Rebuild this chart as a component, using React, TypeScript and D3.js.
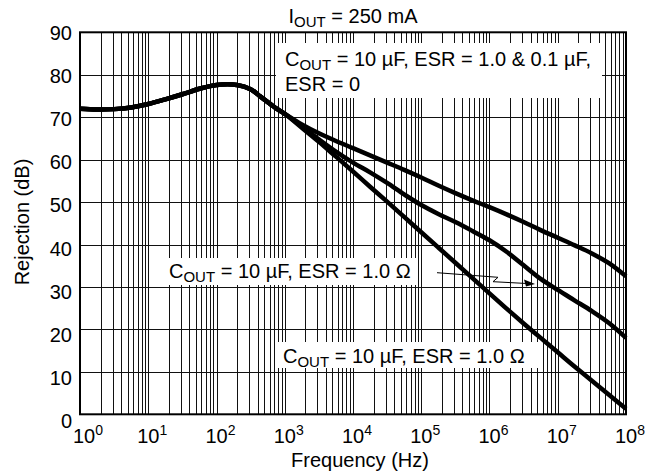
import React from "react";
import * as d3 from "d3";

// log10 of frequency (Hz) at which values were read
const commonLogF = [0, 0.25, 0.5, 0.75, 1.0, 1.25, 1.5, 1.75, 2.0, 2.3, 2.5, 2.64, 2.78, 2.88];
const commonDb = [72.0, 71.8, 71.9, 72.3, 73.1, 74.2, 75.4, 76.7, 77.6, 77.6, 76.6, 74.9, 73.2, 72.0];

const branchLogF = [3.0, 3.25, 3.5, 3.75, 4.0, 4.25, 4.5, 4.75, 5.0, 5.25, 5.5, 5.75, 6.0, 6.25, 6.5, 6.75, 7.0, 7.25, 7.5, 7.75, 8.0];
// C_OUT = 10 µF, ESR = 1.0 & 0.1 µF, ESR = 0
const topDb = [70.8, 68.3, 66.2, 64.4, 62.7, 61.0, 59.3, 57.6, 55.8, 53.9, 52.1, 50.4, 48.8, 47.1, 45.3, 43.4, 41.6, 39.8, 37.9, 35.6, 32.5];
// C_OUT = 10 µF, ESR = 1.0 Ω (upper)
const midDb = [70.8, 67.8, 64.8, 61.9, 59.3, 57.0, 54.5, 51.8, 49.3, 47.2, 45.3, 43.2, 41.0, 38.3, 35.1, 31.9, 29.3, 26.8, 24.3, 21.5, 18.0];
// C_OUT = 10 µF, ESR = 1.0 Ω (lower)
const botDb = [70.8, 67.5, 64.2, 60.7, 57.2, 53.6, 50.1, 46.5, 42.9, 39.3, 35.7, 32.1, 28.5, 24.9, 21.4, 18.0, 14.6, 11.2, 7.9, 4.6, 1.3];

const yTicks = [0, 10, 20, 30, 40, 50, 60, 70, 80, 90];
const xDecades = [0, 1, 2, 3, 4, 5, 6, 7, 8];

const FONT = "'Liberation Sans', Arial, Helvetica, sans-serif";

export default function App() {
  const W = 645, H = 473;
  const L = 80, R = 626, T = 32.3, B = 414.3;
  const x = d3.scaleLog().domain([1, 1e8]).range([L, R]);
  const y = d3.scaleLinear().domain([0, 90]).range([B, T]);

  const minorX: number[] = [];
  for (let d = 0; d < 8; d++) for (let k = 1; k < 10; k++) minorX.push(k * Math.pow(10, d));
  minorX.push(1e8);

  const line = d3
    .line<[number, number]>()
    .x((p) => x(Math.pow(10, p[0])))
    .y((p) => y(p[1]))
    .curve(d3.curveCatmullRom.alpha(0.5));

  const build = (v: number[]) => {
    const pts: [number, number][] = commonLogF.map((q, i) => [q, commonDb[i]]);
    branchLogF.forEach((q, i) => pts.push([q, v[i]]));
    return line(pts) || "";
  };

  const curves = [build(topDb), build(midDb), build(botDb)];

  const fs = 20;
  const sub = (main: string, s: string, rest: string) => (
    <>
      {main}
      <tspan fontSize={15} dy={4}>{s}</tspan>
      <tspan dy={-4}>{rest}</tspan>
    </>
  );

  return (
    <svg
      width={W}
      height={H}
      style={{ position: "absolute", left: 0, top: 0, background: "#fff" }}
      fontFamily={FONT}
    >
      <rect x={0} y={0} width={W} height={H} fill="#fff" />
      {/* vertical grid */}
      {minorX.map((f, i) => (
        <line
          key={"v" + i}
          x1={Math.round(x(f)) + 0.5}
          x2={Math.round(x(f)) + 0.5}
          y1={T}
          y2={B}
          stroke="#111"
          strokeWidth={1}
        />
      ))}
      {/* horizontal grid */}
      {yTicks.map((t) => (
        <line
          key={"h" + t}
          x1={L}
          x2={R}
          y1={Math.round(y(t)) + 0.5}
          y2={Math.round(y(t)) + 0.5}
          stroke="#111"
          strokeWidth={1}
        />
      ))}
      {/* frame */}
      <rect x={L} y={T} width={R - L} height={B - T} fill="none" stroke="#000" strokeWidth={2} />

      {/* annotation boxes */}
      <rect x={276} y={43} width={326} height={55} fill="#fff" />
      <rect x={159} y={258} width={259} height={27} fill="#fff" />
      <rect x={275} y={342} width={263} height={26} fill="#fff" />

      {/* curves */}
      {curves.map((d, i) => (
        <path key={"c" + i} d={d} fill="none" stroke="#000" strokeWidth={4.5} strokeLinejoin="round" />
      ))}

      {/* arrow */}
      <polyline
        points="437,272.7 498,277.3 493,281.7 527,283.5"
        fill="none"
        stroke="#000"
        strokeWidth={1}
      />
      <polygon points="535,284 524,279.5 526,286.5" fill="#000" />

      {/* texts */}
      <text x={353} y={23} fontSize={fs} textAnchor="middle" fill="#000">
        {sub("I", "OUT", " = 250 mA")}
      </text>
      <text x={285} y={66} fontSize={fs} fill="#000">
        {sub("C", "OUT", " = 10 \u00B5F, ESR = 1.0 & 0.1 \u00B5F,")}
      </text>
      <text x={285} y={91} fontSize={fs} fill="#000">ESR = 0</text>
      <text x={169} y={278} fontSize={fs} fill="#000">
        {sub("C", "OUT", " = 10 \u00B5F, ESR = 1.0 \u03A9")}
      </text>
      <text x={283} y={363} fontSize={fs} fill="#000">
        {sub("C", "OUT", " = 10 \u00B5F, ESR = 1.0 \u03A9")}
      </text>

      {/* y ticks */}
      {yTicks.map((t) => (
        <text key={"yl" + t} x={72} y={y(t) + 8 + (90 - t) * 0.06} fontSize={fs} textAnchor="end" fill="#000">
          {t}
        </text>
      ))}
      {/* x ticks */}
      {xDecades.map((d) => (
        <text
          key={"xl" + d}
          x={x(Math.pow(10, d)) + (d === 0 ? 8 : 4)}
          y={443}
          fontSize={fs}
          textAnchor="middle"
          fill="#000"
        >
          10
          <tspan fontSize={14} dy={-8}>{d}</tspan>
        </text>
      ))}

      <text x={360} y={467} fontSize={fs} textAnchor="middle" fill="#000">
        Frequency (Hz)
      </text>
      <text
        transform="translate(29,222) rotate(-90)"
        fontSize={fs}
        textAnchor="middle"
        fill="#000"
      >
        Rejection (dB)
      </text>
    </svg>
  );
}
